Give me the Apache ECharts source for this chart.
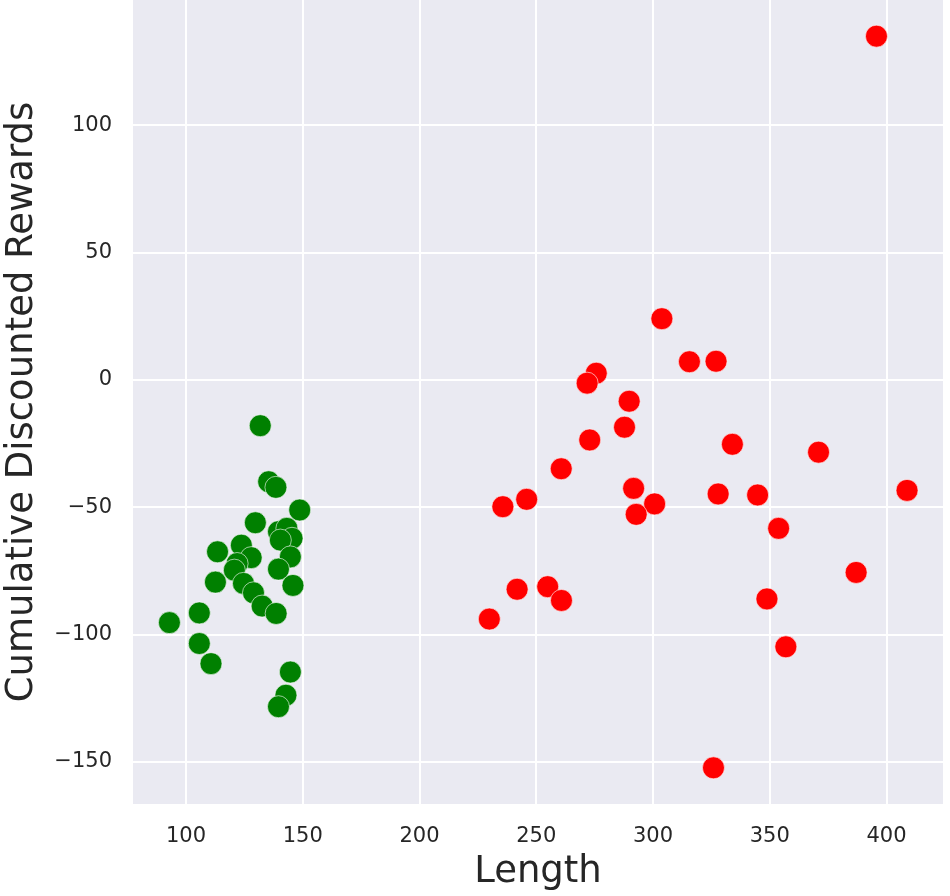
<!DOCTYPE html>
<html>
<head>
<meta charset="utf-8">
<script src="https://cdn.jsdelivr.net/npm/echarts@6/dist/echarts.min.js"></script>
<style>html,body{margin:0;padding:0;background:#fff;}#c{width:950px;height:896px;}</style>
</head>
<body>
<div id="c"></div>
<script>
const greenX = [131.8,135.4,138.5,148.7,129.7,139.6,143.2,145.4,140.4,123.7,113.5,127.9,144.7,121.9,120.7,139.6,112.6,124.6,128.9,145.8,132.6,138.6,105.7,92.9,105.7,110.7,144.7,142.8,139.6];
const greenY = [-18.0,-40.0,-42.2,-51.1,-56.1,-59.6,-58.3,-62.2,-62.9,-64.9,-67.5,-69.8,-69.5,-72.1,-74.7,-74.3,-79.4,-79.9,-83.6,-80.7,-88.8,-91.7,-91.5,-95.3,-103.5,-111.4,-114.7,-123.8,-128.3];
const redX = [303.8,315.6,275.7,271.8,289.8,287.8,272.9,260.7,291.7,300.7,292.8,245.9,235.7,241.8,254.9,260.8,229.9,327.0,334.0,370.9,327.9,344.8,408.8,353.8,387.0,348.8,356.9,395.7,325.9];
const redY = [24.0,7.1,2.6,-1.3,-8.4,-18.6,-23.6,-34.9,-42.6,-48.7,-52.8,-46.9,-49.8,-82.2,-81.2,-86.6,-93.9,7.3,-25.3,-28.4,-44.8,-45.2,-43.4,-58.3,-75.6,-86.0,-104.8,134.9,-152.3];
const xTicks = [100,150,200,250,300,350,400];
const yTicks = [-150,-100,-50,0,50,100];
const xName = 'Length';
const yName = 'Cumulative Discounted Rewards';

const zip = (a,b) => a.map((v,i) => [v,b[i]]);
const fmt = v => String(v).replace('-', '\u2212');
const font = 'DejaVu Sans';

const chart = echarts.init(document.getElementById('c'), null, {renderer:'canvas'});
chart.setOption({
  animation: false,
  backgroundColor: '#ffffff',
  grid: {left:133, right:7, top:0, bottom:92, show:true, backgroundColor:'#EAEAF2', borderWidth:0, containLabel:false, outerBoundsMode:'none'},
  xAxis: {
    type:'value', min:77.3, max:424.2,
    name:xName, nameLocation:'middle', nameGap:50,
    nameTextStyle:{fontFamily:font, fontSize:37, color:'#262626'},
    axisLine:{show:false}, axisTick:{show:false, customValues:xTicks},
    axisLabel:{customValues:xTicks, formatter:fmt, fontFamily:font, fontSize:21, color:'#262626', margin:22},
    splitLine:{show:true, lineStyle:{color:'#ffffff', width:2}}
  },
  yAxis: {
    type:'value', min:-166.5, max:149.1,
    name:yName, nameLocation:'middle', nameGap:92,
    nameTextStyle:{fontFamily:font, fontSize:37, color:'#262626'},
    axisLine:{show:false}, axisTick:{show:false, customValues:yTicks},
    axisLabel:{customValues:yTicks, formatter:fmt, fontFamily:font, fontSize:21, color:'#262626', margin:21},
    splitLine:{show:true, lineStyle:{color:'#ffffff', width:2}}
  },
  series: [
    {type:'scatter', data:zip(greenX,greenY), symbolSize:22,
     itemStyle:{color:'#008000', borderColor:'#ffffff', borderWidth:0.6, opacity:1}},
    {type:'scatter', data:zip(redX,redY), symbolSize:22,
     itemStyle:{color:'#FF0000', borderColor:'#ffffff', borderWidth:0.6, opacity:1}}
  ]
});
</script>
</body>
</html>
